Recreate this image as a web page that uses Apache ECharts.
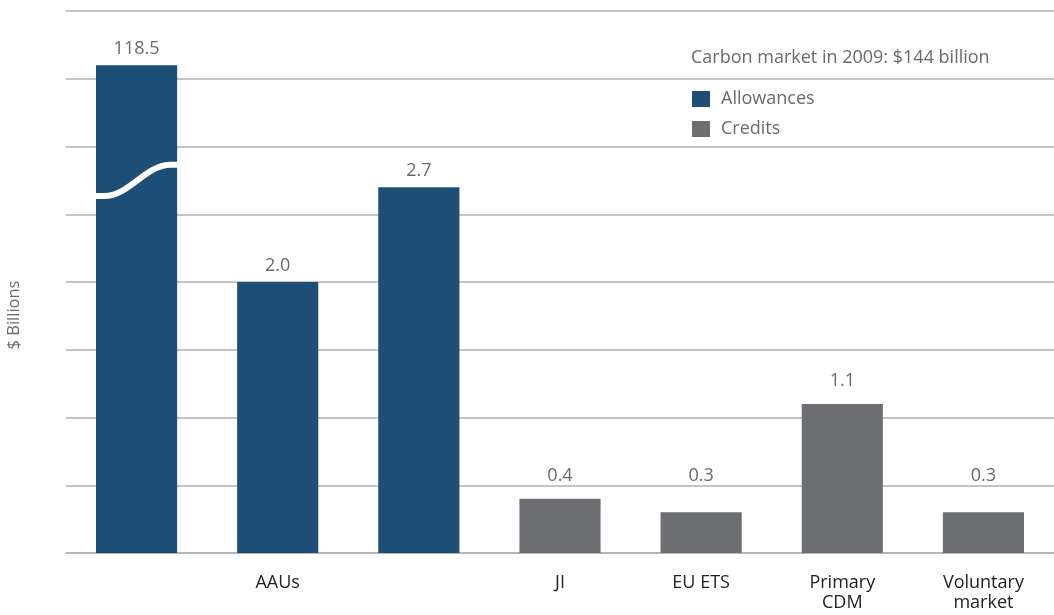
<!DOCTYPE html>
<html>
<head>
<meta charset="utf-8">
<script src="https://cdn.jsdelivr.net/npm/echarts@6/dist/echarts.min.js"></script>
<style>html,body{margin:0;padding:0;background:#fff}#c{width:1054px;height:615px}</style>
</head>
<body>
<div id="c"></div>
<script>
var categories = ['', 'AAUs', '', 'JI', 'EU ETS', 'Primary\nCDM', 'Voluntary\nmarket'];
var allowances = [118.5, 2.0, 2.7, null, null, null, null];
var credits = [null, null, null, 0.4, 0.3, 1.1, 0.3];
var yTicks = [0, 0.5, 1, 1.5, 2, 2.5, 3, 3.5, 4];
var titleText = 'Carbon market in 2009: $144 billion';
var yName = '$ Billions';
var BREAK_SHOWN = 3.6;   // displayed height of the broken bar
var BREAK_LIMIT = 4;
var LABEL_FLOOR = 0.4;   // small credit labels sit no lower than this bar's label

var BLUE = '#1d4e75', GREY = '#6d6e71', TXT = '#6a6a6a';
function shown(arr) {
  return arr.map(function (v) { return v == null ? '-' : (v > BREAK_LIMIT ? BREAK_SHOWN : v); });
}
function labelFor(arr) {
  return function (p) { var v = arr[p.dataIndex]; return v == null ? '' : v.toFixed(1); };
}
var breakIdx = allowances.map(function (v, i) { return v != null && v > BREAK_LIMIT ? i : -1; }).filter(function (i) { return i >= 0; });

var chart = echarts.init(document.getElementById('c'));
var FONT = 'Open Sans';
chart.setOption({
  animation: false,
  textStyle: { fontFamily: FONT },
  title: {
    text: titleText, left: 691, top: 49, padding: 0,
    textStyle: { fontSize: 18, fontWeight: 'normal', color: TXT, fontFamily: FONT }
  },
  legend: {
    data: ['Allowances', 'Credits'], orient: 'vertical', left: 692, top: 90, padding: 0,
    itemWidth: 18, itemHeight: 16, itemGap: 12, icon: 'rect',
    textStyle: { fontSize: 18, color: TXT, padding: [0, 0, 0, 6], fontFamily: FONT }
  },
  graphic: [{
    type: 'text', x: 14, y: 315, rotation: Math.PI / 2,
    style: { text: yName, fill: TXT, font: '16.5px "Open Sans"', align: 'center', verticalAlign: 'middle' }
  }],
  grid: { left: 66, right: 0, top: 11, bottom: 62 },
  xAxis: {
    type: 'category', data: categories,
    axisTick: { show: false },
    axisLine: { lineStyle: { color: '#b0b0b0', width: 1.5 } },
    axisLabel: { color: '#222', fontSize: 18, margin: 20, lineHeight: 20, interval: 0, fontFamily: FONT }
  },
  yAxis: {
    type: 'value', min: yTicks[0], max: yTicks[yTicks.length - 1], interval: yTicks[1] - yTicks[0],
    axisLabel: { show: false }, axisTick: { show: false }, axisLine: { show: false },
    splitLine: { lineStyle: { color: '#b0b0b0', width: 1.5 } }
  },
  series: [
    {
      name: 'Allowances', type: 'bar', data: shown(allowances), barWidth: '57.5%', barGap: '-100%',
      itemStyle: { color: BLUE },
      label: { show: true, position: 'top', distance: 7, color: TXT, fontSize: 18, formatter: labelFor(allowances) }
    },
    {
      name: 'Credits', type: 'bar', data: shown(credits), barWidth: '57.5%',
      itemStyle: { color: GREY },
      label: { show: true, position: 'top', distance: 14, color: TXT, fontSize: 18, formatter: labelFor(credits) }
    },
    {
      name: 'break', type: 'custom', z: 10, silent: true,
      data: breakIdx.map(function (i) { return [i, BREAK_SHOWN]; }),
      renderItem: function (params, api) {
        var c = api.value(0);
        var w = api.size([1, 0])[0] * 0.575;
        var pL = api.coord([c, 2.635]);
        var pR = api.coord([c, 2.865]);
        var x0 = pL[0] - w / 2, x1 = pL[0] + w / 2;
        var yl = pL[1], yr = pR[1];
        var a = x0 + w * 0.1, b = x1 - w * 0.08, k = 0.38;
        var path = 'M' + (x0 - 1) + ' ' + yl + ' L' + a + ' ' + yl +
          ' C' + (a + (b - a) * k) + ' ' + yl + ' ' + (b - (b - a) * k) + ' ' + yr + ' ' + b + ' ' + yr +
          ' L' + (x1 + 1) + ' ' + yr;
        return {
          type: 'path',
          shape: { pathData: path },
          style: { stroke: '#fff', lineWidth: 6, fill: null }
        };
      }
    }
  ]
});

// lift labels of the shortest credit bars so they line up with the LABEL_FLOOR bar's label
var floorY = chart.convertToPixel({ xAxisIndex: 0, yAxisIndex: 0 }, [0, LABEL_FLOOR])[1];
var creditItems = shown(credits).map(function (v) {
  if (v === '-' || v >= LABEL_FLOOR) return v;
  var topY = chart.convertToPixel({ xAxisIndex: 0, yAxisIndex: 0 }, [0, v])[1];
  return { value: v, label: { distance: 14 + (topY - floorY) } };
});
chart.setOption({ series: [{}, { data: creditItems }] });
</script>
</body>
</html>
